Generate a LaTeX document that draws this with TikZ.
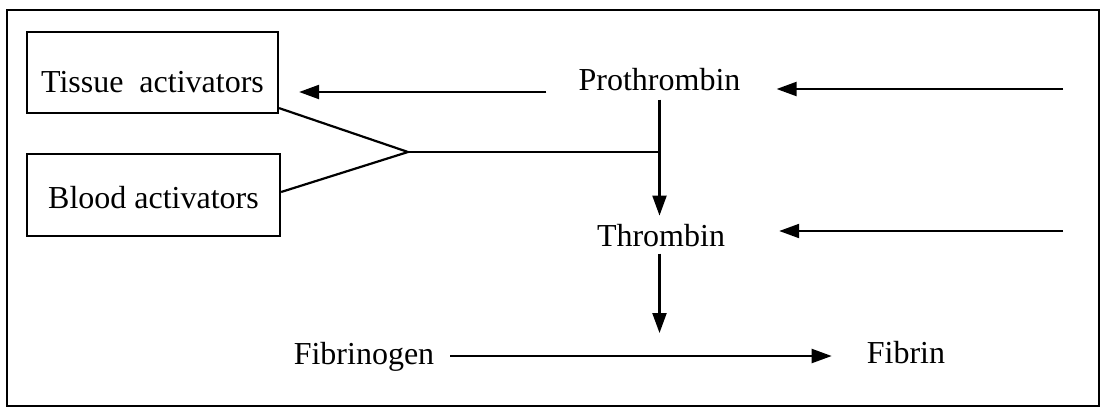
\documentclass[tikz,border=0pt]{standalone}
\usepackage{fontspec}
\setmainfont{Liberation Serif}
\usetikzlibrary{arrows.meta,calc}
\begin{document}
\begin{tikzpicture}[x=1pt,y=-1pt,
  ln/.style={line width=2.2pt},
  arr/.style={ln,-{Triangle[length=20pt,width=14pt]}},
  box/.style={draw,line width=2.2pt,inner sep=0pt,text depth=0pt},
  lbl/.style={inner sep=0pt,anchor=base},
  font=\fontsize{32}{38}\selectfont]
\useasboundingbox (0,0) rectangle (1102,408);
\node[draw,line width=2.2pt,inner sep=0pt,minimum width=1092pt,minimum height=396pt] (frame) at (553,208) {};
% boxes
\node[box,minimum width=251pt,minimum height=81pt,text height=39pt] (tissue) at (152.5,72.5) {Tissue\hspace{16pt}activators};
\node[box,minimum width=253pt,minimum height=82pt,text height=26pt] (blood) at (153.5,195) {Blood activators};
% labels
\node[lbl] (pro) at (659.5,90) {Prothrombin};
\node[lbl] (thr) at (661,246) {Thrombin};
\node[lbl] (fgn) at (364,364) {Fibrinogen};
\node[lbl] (fib) at (906,363) {Fibrin};
% free ends and levels
\coordinate (r1) at (1063,89);
\coordinate (r2) at (1063,231);
\coordinate (lv1) at (0,92);
\coordinate (lv3) at (0,356);
\coordinate (j) at (408,152);
% connectors
\draw[arr,shorten >=36pt] (r1) -- (r1 -| pro.east);
\draw[arr,shorten >=54pt] (r2) -- (r2 -| thr.east);
\draw[arr,shorten <=32pt,shorten >=20pt] (pro.west |- lv1) -- (tissue.east |- lv1);
\draw[ln] ($(tissue.south east)+(0,-6)$) -- (j) -- ($(blood.east)+(0,-3)$);
\draw[ln] (j) -- (j -| pro.south);
\draw[arr,shorten <=9pt,shorten >=8pt] (pro.south) -- (pro.south |- thr.north);
\draw[arr,shorten <=7pt,shorten >=23pt] (pro.south |- thr.south) -- (pro.south |- lv3);
\draw[arr,shorten <=16pt,shorten >=35pt] (fgn.east |- lv3) -- (fib.west |- lv3);
\end{tikzpicture}
\end{document}
